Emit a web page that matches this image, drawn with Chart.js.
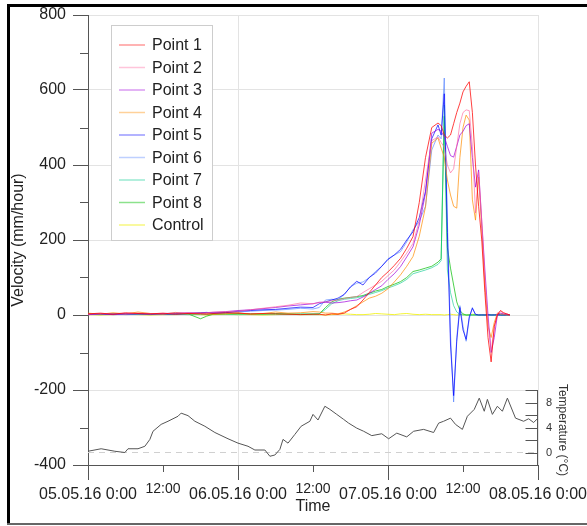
<!DOCTYPE html>
<html>
<head>
<meta charset="utf-8">
<script src="https://cdn.jsdelivr.net/npm/chart.js@4.4.1/dist/chart.umd.min.js"></script>
<style>
  html, body { margin: 0; padding: 0; background: #fff; }
  #chartBox { width: 587px; height: 526px; }
</style>
</head>
<body>
<div id="chartBox"><canvas id="myChart" width="587" height="526"></canvas></div>
<script>
// hours since 05.05.16 0:00
var hours = [0,2,4,6,8,10,12,14,16,18,19,20,22,24,26,28,30,32,34,36,
  37,38,39,40,41,42,43,44,45,46,47,48,49,50,51,52,53,54,55,56,
  56.5,57,57.5,58,58.5,59,59.5,60,60.5,61,61.5,62,62.5,63,63.5,64,64.5,65,65.5,66,66.5,67,67.5];

var point1 = [3,5,2,6,4,3,5,2,4,3,2,4,6,5,3,4,3,2,1,2,
  2,0,3,2,5,15,22,40,60,80,100,115,132,151,178,209,300,420,500,512,
  505,480,472,480,510,540,565,595,610,622,540,400,290,200,60,-60,-125,-30,0,12,6,3,0];
var point2 = [2,4,3,2,5,4,3,5,6,5,6,8,9,10,14,18,22,26,32,30,
  33,35,38,40,44,47,49,60,70,80,90,105,120,142,165,191,250,360,465,475,
  460,448,400,379,390,450,510,540,547,545,450,272,381,250,100,-20,-95,-35,5,10,5,3,0];
var point3 = [1,3,2,4,3,2,4,5,6,5,6,7,9,12,14,17,20,24,27,30,
  34,34,32,33,35,38,40,48,58,68,78,95,110,129,155,182,240,325,485,495,
  490,475,450,425,421,450,480,490,505,510,420,341,387,250,120,0,-100,-60,0,5,3,2,0];
var point4 = [5,2,6,3,8,4,2,7,3,5,4,2,3,6,2,4,8,5,6,9,
  8,5,5,3,8,15,25,35,45,50,58,70,88,107,130,156,210,288,458,472,
  445,421,360,320,290,285,420,500,533,520,307,253,368,230,80,-30,-60,-20,5,3,2,0,0];
var point5 = [2,3,1,2,4,3,2,3,4,6,7,5,6,10,12,14,15,18,21,20,
  30,35,40,45,55,75,90,80,100,112,130,148,160,175,200,222,260,330,470,507,
  480,590,220,-80,-215,-70,20,-40,-65,-5,18,2,0,0,0,1,0,0,1,0,0,0,0];
var point6 = [1,2,3,1,2,4,3,2,3,5,6,5,7,8,10,12,13,15,18,16,
  20,40,42,40,55,75,85,88,100,116,130,150,160,169,195,227,250,290,440,480,
  470,632,250,-50,-232,-60,25,-30,-70,-10,20,0,0,1,0,0,0,1,0,0,0,0,0];
var point7 = [2,1,3,2,2,1,3,2,1,2,2,3,2,1,2,3,2,2,3,2,
  3,15,30,38,42,44,46,50,55,60,65,72,78,85,95,110,115,120,126,135,
  145,560,120,60,25,8,2,0,0,0,0,0,0,0,0,0,0,0,0,0,0,0,0];
var point8 = [3,2,4,3,2,3,2,4,3,-10,-3,2,3,4,3,2,4,3,2,3,
  3,20,35,42,45,47,49,52,58,64,68,76,82,89,100,116,120,125,130,141,
  150,530,180,125,80,35,12,3,0,0,0,0,0,0,0,0,0,0,0,0,0,0,0];
var control = [1,0,1,2,1,0,1,1,2,1,0,1,2,1,1,0,1,2,1,1,
  1,0,1,2,3,2,1,1,2,4,3,2,1,3,4,2,1,2,1,1,
  1,0,1,2,1,0,1,1,0,1,2,1,0,1,1,0,1,1,0,1,0,1,0];

var tempHours = [0,2.1,4.3,5.9,6.4,8,9.1,9.9,10.4,11.7,12.8,14.4,14.9,16,17.1,18.7,20.3,22.4,24,25.6,
  26.7,28.3,29.1,29.9,30.7,31.2,32,33.1,34.1,35.5,36,36.8,37.9,38.7,39.8,40.9,41.7,43,44.1,45.4,
  47,48.1,49.4,51,52.1,53.7,55.3,56.1,56.9,58,58.8,59.9,60.7,61.8,62.6,63.4,63.9,64.7,65.5,66.3,
  67.1,68.4,69.7,70.5,71.3,72];
var tempValues = [0.2,0.6,0.2,0,0.6,0.6,1.0,2.1,3.4,4.5,5.0,5.8,6.3,5.9,5.0,4.2,3.2,2.2,1.5,1.0,
  0.4,0.4,-0.6,-0.4,0.5,2.1,1.5,2.9,4.2,5.0,6.1,5.2,7.4,6.9,6.1,5.3,4.7,3.9,3.4,2.7,
  3.0,2.2,3.1,2.5,3.4,3.7,3.2,4.7,5.0,5.5,4.5,3.7,5.8,6.9,8.7,6.6,8.5,6.1,7.4,6.6,
  8.7,5.5,5.0,5.4,4.8,5.5];

var seriesNames = ["Point 1", "Point 2", "Point 3", "Point 4", "Point 5", "Point 6", "Point 7", "Point 8", "Control"];
var seriesValues = [point1, point2, point3, point4, point5, point6, point7, point8, control];
var dayLabels = ["05.05.16 0:00", "06.05.16 0:00", "07.05.16 0:00", "08.05.16 0:00"];
var halfDayLabel = "12:00";
var tempTickLabels = [0, 4, 8];

var seriesColors = [
  'rgba(255, 0, 0, 0.75)',
  'rgba(255, 90, 150, 0.6)',
  'rgba(160, 0, 220, 0.7)',
  'rgba(255, 140, 0, 0.7)',
  'rgba(0, 0, 255, 0.7)',
  'rgba(70, 120, 255, 0.6)',
  'rgba(0, 200, 140, 0.6)',
  'rgba(0, 190, 0, 0.7)',
  'rgba(240, 240, 0, 0.8)'
];
var legendColors = [
  'rgba(255, 0, 0, 0.4)',
  'rgba(255, 90, 150, 0.35)',
  'rgba(160, 0, 220, 0.4)',
  'rgba(255, 140, 0, 0.4)',
  'rgba(0, 0, 255, 0.4)',
  'rgba(70, 120, 255, 0.35)',
  'rgba(0, 200, 140, 0.4)',
  'rgba(0, 190, 0, 0.45)',
  'rgba(240, 240, 0, 0.5)'
];
var axisColor = '#555';
var gridColor = '#e3e3e3';
var fontFam = "'Liberation Sans', Arial, sans-serif";

Chart.defaults.font.family = fontFam;
Chart.defaults.color = '#222';

var datasets = [];
for (var i = 0; i < seriesNames.length; i++) {
  var vals = seriesValues[i];
  datasets.push({
    label: seriesNames[i],
    data: hours.map(function (h, k) { return { x: h, y: vals[k] }; }),
    borderColor: seriesColors[i],
    borderWidth: 1,
    pointRadius: 0,
    tension: 0,
    yAxisID: 'y'
  });
}
datasets.push({
  label: 'Temperature',
  data: tempHours.map(function (h, k) { return { x: h, y: tempValues[k] }; }),
  borderColor: '#555',
  borderWidth: 1,
  pointRadius: 0,
  yAxisID: 'yT'
});
datasets.push({
  label: 'zero',
  data: [{ x: 0, y: 0 }, { x: 72, y: 0 }],
  borderColor: '#d0d0d0',
  borderWidth: 1,
  borderDash: [6, 5],
  pointRadius: 0,
  yAxisID: 'yT'
});

// extra drawing: minor ticks, temperature axis, legend, frame
const decor = {
  id: 'decor',
  afterDraw(chart) {
    const ctx = chart.ctx;
    const area = chart.chartArea;
    const xs = chart.scales.x, ys = chart.scales.y, ts = chart.scales.yT;
    ctx.save();
    ctx.strokeStyle = axisColor;
    ctx.lineWidth = 1;
    ctx.beginPath();
    for (var v = -300; v < 800; v += 200) {
      var py = Math.round(ys.getPixelForValue(v)) + 0.5;
      ctx.moveTo(area.left - 8, py); ctx.lineTo(area.left, py);
    }
    for (var h = 12; h < 72; h += 24) {
      var px = Math.round(xs.getPixelForValue(h)) + 0.5;
      ctx.moveTo(px, area.bottom); ctx.lineTo(px, area.bottom + 7);
    }
    var rx = Math.round(area.right) - 0.5;
    ctx.moveTo(rx, ts.getPixelForValue(10)); ctx.lineTo(rx, area.bottom);
    for (var t = 0; t <= 10; t += 2) {
      var ty = Math.round(ts.getPixelForValue(t)) + 0.5;
      ctx.moveTo(rx - 12, ty); ctx.lineTo(rx, ty);
    }
    ctx.stroke();

    ctx.fillStyle = '#222';
    ctx.font = '14px ' + fontFam;
    ctx.textAlign = 'center';
    ctx.textBaseline = 'middle';
    for (var h2 = 12; h2 < 72; h2 += 24) {
      ctx.fillText(halfDayLabel, xs.getPixelForValue(h2), area.bottom + 24);
    }

    ctx.save();
    ctx.font = '12px ' + fontFam;
    ctx.fillStyle = '#333';
    ctx.translate(562, 430);
    ctx.rotate(Math.PI / 2);
    ctx.fillText('Temperature (°C)', 0, 0);
    ctx.restore();

    // legend
    ctx.fillStyle = '#fff';
    ctx.fillRect(111, 25, 102, 216);
    ctx.strokeStyle = '#cdcdcd';
    ctx.strokeRect(111.5, 25.5, 101, 215);
    ctx.font = '16px ' + fontFam;
    ctx.textAlign = 'left';
    for (var k = 0; k < seriesNames.length; k++) {
      var ly = 45 + k * 22.5;
      ctx.strokeStyle = legendColors[k];
      ctx.lineWidth = 1.5;
      ctx.beginPath();
      ctx.moveTo(119, ly); ctx.lineTo(145, ly);
      ctx.stroke();
      ctx.fillStyle = '#222';
      ctx.fillText(seriesNames[k], 152, ly + 1);
    }

    // outer frame
    ctx.fillStyle = '#000';
    ctx.fillRect(7, 4, 580, 3);
    ctx.fillRect(7, 4, 3, 521);
    ctx.fillStyle = '#666';
    ctx.fillRect(7, 523, 580, 2);
    ctx.restore();
  }
};

const config = {
  type: 'line',
  data: { datasets: datasets },
  options: {
    responsive: false,
    animation: false,
    layout: { padding: { top: 15, left: 0, right: 0, bottom: 0 } },
    plugins: { legend: { display: false }, tooltip: { enabled: false } },
    scales: {
      x: {
        type: 'linear',
        min: 0, max: 72,
        ticks: {
          stepSize: 12, autoSkip: false, maxRotation: 0,
          font: { size: 16 }, padding: 5,
          callback: function (v) { return v % 24 === 0 ? dayLabels[v / 24] : ''; }
        },
        grid: {
          color: function (c) { var v = c.tick.value; return (v % 24 === 0 && v !== 0) ? gridColor : 'rgba(0,0,0,0)'; },
          tickColor: function (c) { return c.tick.value % 24 === 0 ? axisColor : 'rgba(0,0,0,0)'; },
          tickLength: 15
        },
        border: { color: axisColor },
        title: { display: true, text: 'Time', font: { size: 16 }, padding: { top: 0, bottom: 10 } },
        afterFit: function (s) { s.height = 61; s.paddingLeft = 0; s.paddingRight = 0; }
      },
      y: {
        min: -400, max: 800,
        ticks: {
          stepSize: 100, autoSkip: false, font: { size: 16 }, padding: 7,
          callback: function (v) { return v % 200 === 0 ? v : ''; }
        },
        grid: {
          color: function (c) { var v = c.tick.value; return (v % 200 === 0 && v !== -400) ? gridColor : 'rgba(0,0,0,0)'; },
          tickColor: function (c) { return c.tick.value % 200 === 0 ? axisColor : 'rgba(0,0,0,0)'; },
          tickLength: 15
        },
        border: { color: axisColor },
        title: { display: true, text: 'Velocity (mm/hour)', font: { size: 16 }, padding: { top: 9, bottom: 0 } },
        afterFit: function (s) { s.width = 88; s.paddingTop = 0; s.paddingBottom = 0; }
      },
      yT: {
        position: 'right',
        min: -2, max: 70,
        afterBuildTicks: function (s) { s.ticks = tempTickLabels.map(function (t) { return { value: t }; }); },
        ticks: { font: { size: 11 }, color: '#333', padding: 8 },
        grid: { display: false, drawTicks: false, drawOnChartArea: false },
        border: { display: false },
        afterFit: function (s) { s.width = 49; s.paddingTop = 0; s.paddingBottom = 0; }
      }
    }
  },
  plugins: [decor]
};

const myChart = new Chart(document.getElementById('myChart'), config);
</script>
</body>
</html>
